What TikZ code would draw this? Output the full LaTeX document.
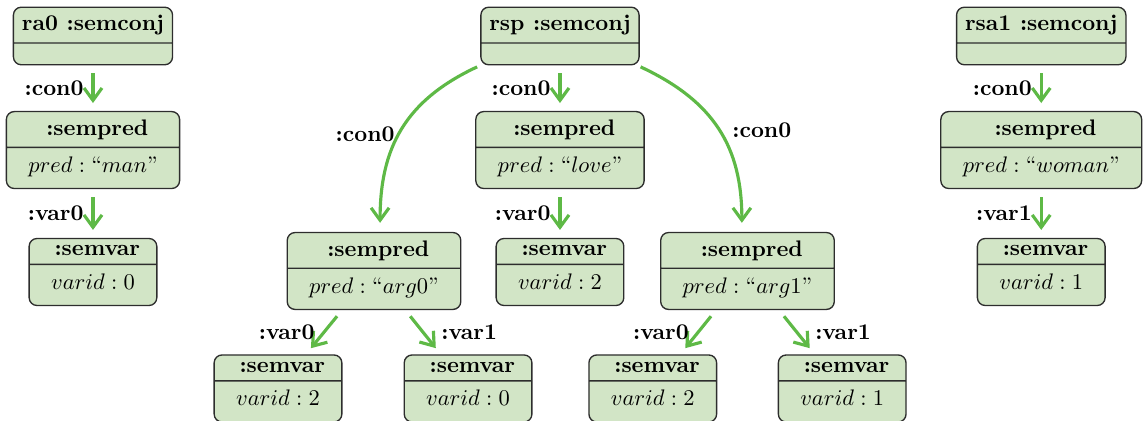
\documentclass[tikz,border=0pt]{standalone}
\usepackage{amsmath}
\usetikzlibrary{arrows.meta,positioning,shapes.multipart}

\definecolor{objfill}{RGB}{210,229,198}
\definecolor{objline}{RGB}{45,45,45}
\definecolor{linkgreen}{RGB}{94,185,70}

\newcommand{\objtitle}[2]{\rule[-5.1pt]{0pt}{15.3pt}\textbf{#1 :#2}}
\newcommand{\vartitle}{\rule[-3.5pt]{0pt}{10.9pt}\textbf{\ :semvar}}
\newcommand{\objattr}[1]{\hbox{\rule[-6.9pt]{0pt}{17.7pt}\kern6pt$#1$\kern6pt}}
\newcommand{\noattr}{\rule{0pt}{9.1pt}}

\begin{document}
\begin{tikzpicture}[
  obj/.style={rectangle split,rectangle split parts=2,draw=objline,line width=0.6pt,fill=objfill,rounded corners=3.5pt,inner xsep=3.75pt,inner ysep=0pt},
  link/.style={draw=linkgreen,line width=1.4pt,-{Straight Barb[length=5.5pt,width=8pt]},shorten <=3.5pt,shorten >=3.5pt},
  role/.style={font=\bfseries,text=black,inner sep=3.5pt}
]
\useasboundingbox (0,0) rectangle (17.86,-6.578);
\node[obj] (ra0) at (1.453,-0.5625) {\objtitle{ra0}{semconj}\nodepart{second}\noattr};
\node[obj] (rsp) at (8.75,-0.5625) {\objtitle{rsp}{semconj}\nodepart{second}\noattr};
\node[obj] (rsa1) at (16.27,-0.5625) {\objtitle{rsa1}{semconj}\nodepart{second}\noattr};
\node[obj,below=0.71cm of ra0] (man) {\objtitle{}{sempred}\nodepart{second}\objattr{pred : \text{``}man\text{''}}};
\node[obj,below=0.71cm of rsp] (love) {\objtitle{}{sempred}\nodepart{second}\objattr{pred : \text{``}love\text{''}}};
\node[obj,below=0.71cm of rsa1] (woman) {\objtitle{}{sempred}\nodepart{second}\objattr{pred : \text{``}woman\text{''}}};
\node[obj,below=0.76cm of man] (manvar) {\vartitle\nodepart{second}\objattr{varid : 0}};
\node[obj,below=0.76cm of love] (lovevar) {\vartitle\nodepart{second}\objattr{varid : 2}};
\node[obj,below=0.76cm of woman] (womanvar) {\vartitle\nodepart{second}\objattr{varid : 1}};
\node[obj,below=2.6cm of rsp,xshift=-2.906cm] (arg0) {\objtitle{}{sempred}\nodepart{second}\objattr{pred : \text{``}arg0\text{''}}};
\node[obj,below=2.6cm of rsp,xshift=2.93cm] (arg1) {\objtitle{}{sempred}\nodepart{second}\objattr{pred : \text{``}arg1\text{''}}};
\node[obj,below=0.69cm of arg0,xshift=-1.5cm] (arg0var0) {\vartitle\nodepart{second}\objattr{varid : 2}};
\node[obj,below=0.69cm of arg0,xshift=1.47cm] (arg0var1) {\vartitle\nodepart{second}\objattr{varid : 0}};
\node[obj,below=0.69cm of arg1,xshift=-1.48cm] (arg1var0) {\vartitle\nodepart{second}\objattr{varid : 2}};
\node[obj,below=0.69cm of arg1,xshift=1.48cm] (arg1var1) {\vartitle\nodepart{second}\objattr{varid : 1}};
\draw[link] (ra0) -- node[role,left]{:con0} (man);
\draw[link] (man) -- node[role,left]{:var0} (manvar);
\draw[link] (rsp) -- node[role,left]{:con0} (love);
\draw[link] (love) -- node[role,left]{:var0} (lovevar);
\draw[link] (rsa1) -- node[role,left]{:con0} (woman);
\draw[link] (woman) -- node[role,left]{:var1} (womanvar);
\draw[link,shorten <=1.5pt,shorten >=4pt] (rsp.south west) to[out=-155,in=90,looseness=1.1] node[role,pos=0.5,left,xshift=1pt,yshift=-1.5pt]{:con0} ([xshift=2.7pt]arg0.north);
\draw[link,shorten <=1.5pt,shorten >=4pt] ([xshift=-1pt]rsp.south east) to[out=-25,in=90,looseness=1.1] node[role,pos=0.5,right,xshift=2pt]{:con0} ([xshift=-2.5pt]arg1.north);
\draw[link] (arg0) -- node[role,left]{:var0} (arg0var0);
\draw[link] (arg0) -- node[role,right,xshift=4pt]{:var1} (arg0var1);
\draw[link] (arg1) -- node[role,left]{:var0} (arg1var0);
\draw[link] (arg1) -- node[role,right,xshift=4pt]{:var1} (arg1var1);
\end{tikzpicture}
\end{document}
